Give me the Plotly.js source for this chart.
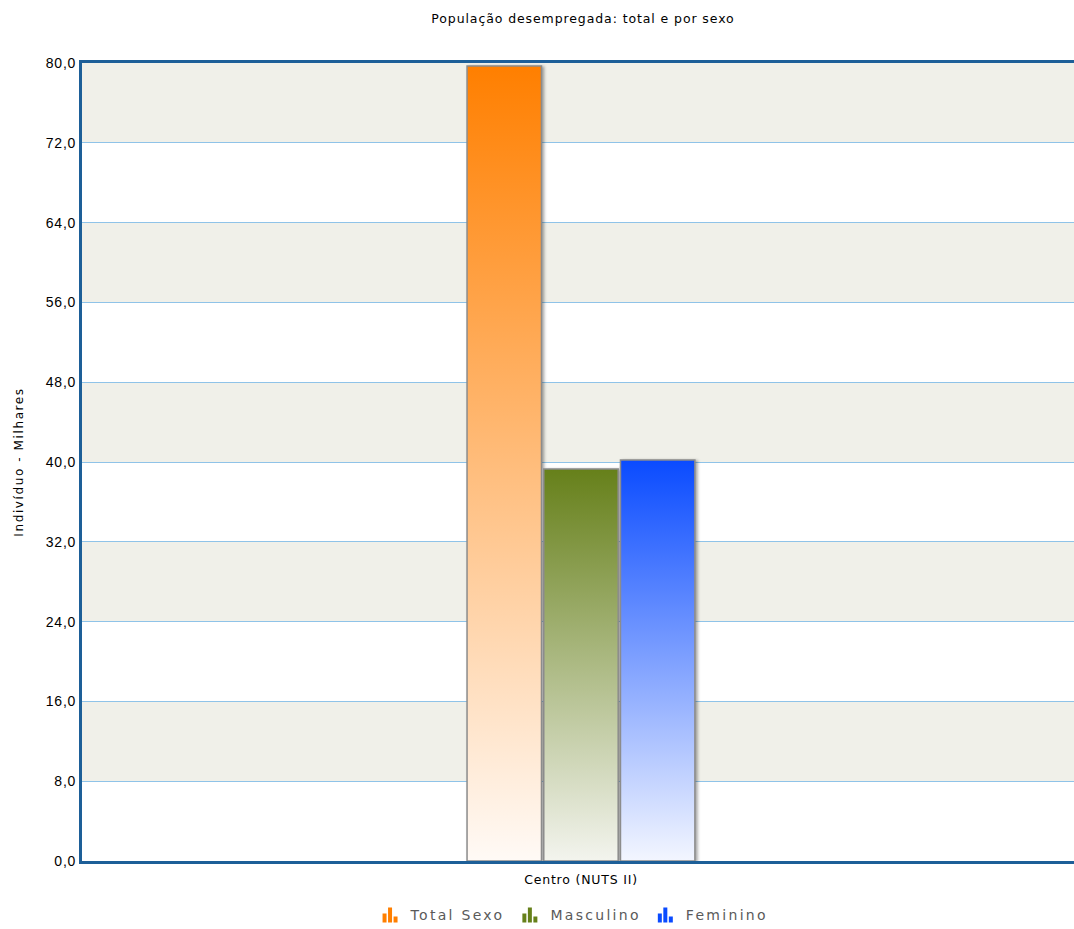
<!DOCTYPE html>
<html>
<head>
<meta charset="utf-8">
<script src="https://cdn.plot.ly/plotly-3.0.1.min.js"></script>
<style>
html,body{margin:0;padding:0;background:#fff;}
#chart{width:1074px;height:929px;}
.barlayer path{filter:drop-shadow(2px 1px 1.5px rgba(0,0,0,0.35));}
.legendtext{letter-spacing:2.3px;}
.gtitle{letter-spacing:0.9px;}
.xtick text{letter-spacing:0.8px;}
.ytick text{letter-spacing:0.8px;}
.ytitle{letter-spacing:1.6px;}
</style>
</head>
<body>
<div id="chart"></div>
<script>
const categories = ["Centro (NUTS II)"];
const seriesNames = ["Total Sexo", "Masculino", "Feminino"];
const totalSexo = [79.7];
const masculino = [39.3];
const feminino = [40.2];
const tickValues = [0, 8, 16, 24, 32, 40, 48, 56, 64, 72, 80];

const topColors = ["#ff7f00", "#66801a", "#0a4bff"];
const bottomColors = ["#fffaf6", "#f3f4ee", "#f3f6ff"];
const seriesValues = [totalSexo, masculino, feminino];

const traces = seriesNames.map((name, i) => ({
  type: "bar",
  name: name,
  x: categories,
  y: seriesValues[i],
  marker: {color: topColors[i], line: {color: "#8c8c8c", width: 1.5}},
  hoverinfo: "none"
}));

// alternating background bands
const shapes = [];
for (let k = 0; k < tickValues.length - 1; k++) {
  if ((tickValues.length - 2 - k) % 2 === 0) {
    shapes.push({type: "rect", xref: "paper", yref: "y", x0: 0, x1: 1,
      y0: tickValues[k], y1: tickValues[k + 1], fillcolor: "#f0f0e9",
      line: {width: 0}, layer: "below"});
  }
}

const layout = {
  width: 1074, height: 929,
  margin: {l: 82, r: 0, t: 63, b: 68},
  paper_bgcolor: "#ffffff", plot_bgcolor: "#ffffff",
  separators: ",.",
  title: {text: "População desempregada: total e por sexo",
    font: {family: "DejaVu Sans", size: 12.5, color: "#000"},
    x: 0.505, xref: "paper", y: 0.9795, yanchor: "middle"},
  barmode: "group", bargap: 0.768, bargroupgap: 0.03,
  showlegend: true,
  legend: {orientation: "h", x: 0.494, xanchor: "center", yref: "container", y: 0.0151, yanchor: "middle",
    font: {family: "DejaVu Sans", size: 14, color: "#5a5a5a"}, itemwidth: 30},
  xaxis: {type: "category", range: [-0.503, 0.497], showline: true, linecolor: "#1d5f98", linewidth: 3,
    mirror: true, ticks: "", showgrid: false, ticklabelstandoff: 5,
    tickfont: {family: "DejaVu Sans", size: 12.5, color: "#000"}},
  yaxis: {range: [0, 80], tickvals: tickValues, tickformat: ".1f",
    showline: true, linecolor: "#1d5f98", linewidth: 3, mirror: false,
    gridcolor: "#8fc3e8", gridwidth: 1, zeroline: false, ticks: "", ticklen: 0,
    tickfont: {family: "Liberation Sans", size: 14, color: "#000"},
    title: {text: "Indivíduo - Milhares", font: {family: "DejaVu Sans", size: 12, color: "#000"}, standoff: 20}},
  shapes: shapes
};

Plotly.newPlot("chart", traces, layout, {displayModeBar: false, staticPlot: true}).then(gd => {
  const svg = gd.querySelector(".main-svg");
  const NS = "http://www.w3.org/2000/svg";
  let defs = svg.querySelector("defs");
  if (!defs) { defs = document.createElementNS(NS, "defs"); svg.insertBefore(defs, svg.firstChild); }
  topColors.forEach((c, i) => {
    const g = document.createElementNS(NS, "linearGradient");
    g.setAttribute("id", "barGrad" + i);
    g.setAttribute("x1", "0"); g.setAttribute("y1", "0");
    g.setAttribute("x2", "0"); g.setAttribute("y2", "1");
    const s1 = document.createElementNS(NS, "stop");
    s1.setAttribute("offset", "0"); s1.setAttribute("stop-color", c);
    const s2 = document.createElementNS(NS, "stop");
    s2.setAttribute("offset", "1"); s2.setAttribute("stop-color", bottomColors[i]);
    g.appendChild(s1); g.appendChild(s2); defs.appendChild(g);
  });
  gd.querySelectorAll(".barlayer .trace").forEach((t, i) => {
    t.querySelectorAll("path").forEach(p => { p.style.fill = "url(#barGrad" + i + ")"; });
  });
  // bar-chart style legend icons
  gd.querySelectorAll(".legend .legendpoints path").forEach(p => {
    p.setAttribute("d", "M-8,8V-1H-4V8Z M-2.5,8V-7H1.5V8Z M3,8V2H7V8Z");
    p.style.stroke = "none";
    p.style.strokeWidth = "0";
  });
});
</script>
</body>
</html>
